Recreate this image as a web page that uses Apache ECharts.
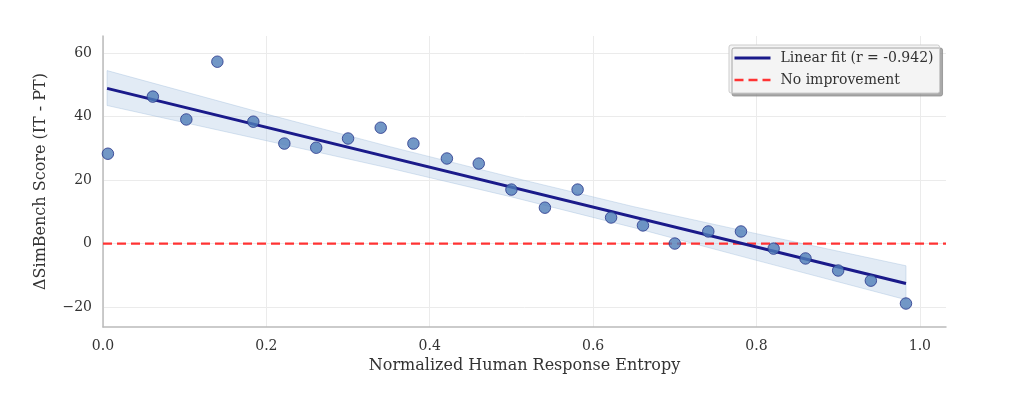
<!DOCTYPE html>
<html>
<head>
<meta charset="utf-8">
<script src="https://cdn.jsdelivr.net/npm/echarts@6/dist/echarts.min.js"></script>
<style>
html,body{margin:0;padding:0;background:#fff;}
#chart{width:1034px;height:398px;}
</style>
</head>
<body>
<div id="chart"></div>
<script>
// Scatter data: normalized entropy (x) and ΔSimBench score (y)
const entropy = [0.006, 0.061, 0.102, 0.140, 0.184, 0.222, 0.261, 0.300, 0.340, 0.380, 0.421, 0.460, 0.500, 0.541, 0.581, 0.622, 0.661, 0.700, 0.741, 0.781, 0.821, 0.860, 0.900, 0.940, 0.983];
const delta   = [28.3, 46.3, 39.1, 57.3, 38.4, 31.5, 30.2, 33.1, 36.5, 31.5, 26.8, 25.2, 17.0, 11.3, 17.0, 8.2, 5.7, 0.0, 3.8, 3.8, -1.6, -4.7, -8.5, -11.7, -18.9];
// Linear fit endpoints
const fitX = [0.005, 0.983];
const fitY = [48.9, -12.6];
// Confidence band
const bandX     = [0.005, 0.2, 0.35, 0.5, 0.65, 0.8, 0.983];
const bandUpper = [54.5, 40.8, 30.6, 20.9, 11.6, 3.1, -7.0];
const bandLower = [43.5, 32.4, 23.8, 14.7, 5.0, -5.3, -17.7];
// Axis ticks
const xTicks = [0, 0.2, 0.4, 0.6, 0.8, 1.0];
const yTicks = [-20, 0, 20, 40, 60];
const xRange = [0, 1.032];
const yRange = [-26.3, 65.4];
const fitLabel = 'Linear fit (r = -0.942)';
const zeroLabel = 'No improvement';

const FONT = 'DejaVu Serif';
const chart = echarts.init(document.getElementById('chart'), null, {renderer: 'canvas'});

const bandPoly = bandX.map((x, i) => [x, bandUpper[i]])
  .concat(bandX.map((x, i) => [x, bandLower[i]]).reverse());

chart.setOption({
  animation: false,
  backgroundColor: '#ffffff',
  grid: {left: 103, right: 88, top: 36, bottom: 71, containLabel: false},
  xAxis: {
    type: 'value', min: xRange[0], max: xRange[1],
    name: 'Normalized Human Response Entropy',
    nameLocation: 'middle', nameGap: 31,
    nameTextStyle: {fontFamily: FONT, fontSize: 16, color: '#333'},
    axisLine: {show: true, onZero: false, lineStyle: {color: '#bbbbbb', width: 1.5}},
    axisTick: {show: true, customValues: xTicks, length: 0},
    axisLabel: {customValues: xTicks, fontFamily: FONT, fontSize: 14, color: '#333', margin: 12,
      formatter: v => v.toFixed(1)},
    splitLine: {show: true, lineStyle: {color: '#ebebeb', width: 1}}
  },
  yAxis: {
    type: 'value', min: yRange[0], max: yRange[1],
    name: 'ΔSimBench Score (IT - PT)',
    nameLocation: 'middle', nameGap: 54,
    nameTextStyle: {fontFamily: FONT, fontSize: 16, color: '#333'},
    axisLine: {show: true, onZero: false, lineStyle: {color: '#bbbbbb', width: 1.5}},
    axisTick: {show: true, customValues: yTicks, length: 0},
    axisLabel: {customValues: yTicks, fontFamily: FONT, fontSize: 14, color: '#333', margin: 11,
      formatter: v => (v < 0 ? '\u2212' + Math.abs(v) : String(v))},
    splitLine: {show: true, lineStyle: {color: '#ebebeb', width: 1}}
  },
  legend: {
    show: true, orient: 'vertical', left: 729, top: 45,
    data: [
      {name: fitLabel, lineStyle: {width: 3}},
      {name: zeroLabel, lineStyle: {width: 2.5}}
    ],
    itemWidth: 36, itemHeight: 15, itemGap: 8,
    padding: [6, 6, 6, 4],
    itemStyle: {opacity: 0},
    backgroundColor: '#f4f4f4', borderColor: '#cccccc', borderWidth: 1, borderRadius: 2,
    shadowColor: 'rgba(140,140,140,0.75)', shadowBlur: 0, shadowOffsetX: 3, shadowOffsetY: 3,
    textStyle: {fontFamily: FONT, fontSize: 14, color: '#333', padding: [0, 0, 0, 5]}
  },
  series: [
    {
      type: 'custom', name: 'band', silent: true, z: 1,
      renderItem: (params, api) => {
        if (params.dataIndex !== 0) return null;
        const pts = bandPoly.map(p => api.coord(p));
        return {type: 'polygon', shape: {points: pts},
          style: {fill: 'rgba(176,200,226,0.36)', stroke: 'rgba(150,180,215,0.35)', lineWidth: 1}};
      },
      data: [[0, 0]]
    },
    {
      type: 'line', name: zeroLabel, z: 3,
      data: [[xRange[0], 0], [xRange[1], 0]],
      symbol: 'none', showSymbol: false,
      lineStyle: {color: '#ff3333', width: 2.2, type: [9, 5]},
      itemStyle: {color: '#ff3333'}
    },
    {
      type: 'line', name: fitLabel, z: 4,
      data: fitX.map((x, i) => [x, fitY[i]]),
      symbol: 'none', showSymbol: false,
      lineStyle: {color: '#1a1a8a', width: 3},
      itemStyle: {color: '#1a1a8a'}
    },
    {
      type: 'scatter', name: 'points', z: 5,
      data: entropy.map((x, i) => [x, delta[i]]),
      symbolSize: 11.5,
      itemStyle: {color: '#4f7db8', borderColor: '#26338a', borderWidth: 1}
    }
  ]
});
</script>
</body>
</html>
